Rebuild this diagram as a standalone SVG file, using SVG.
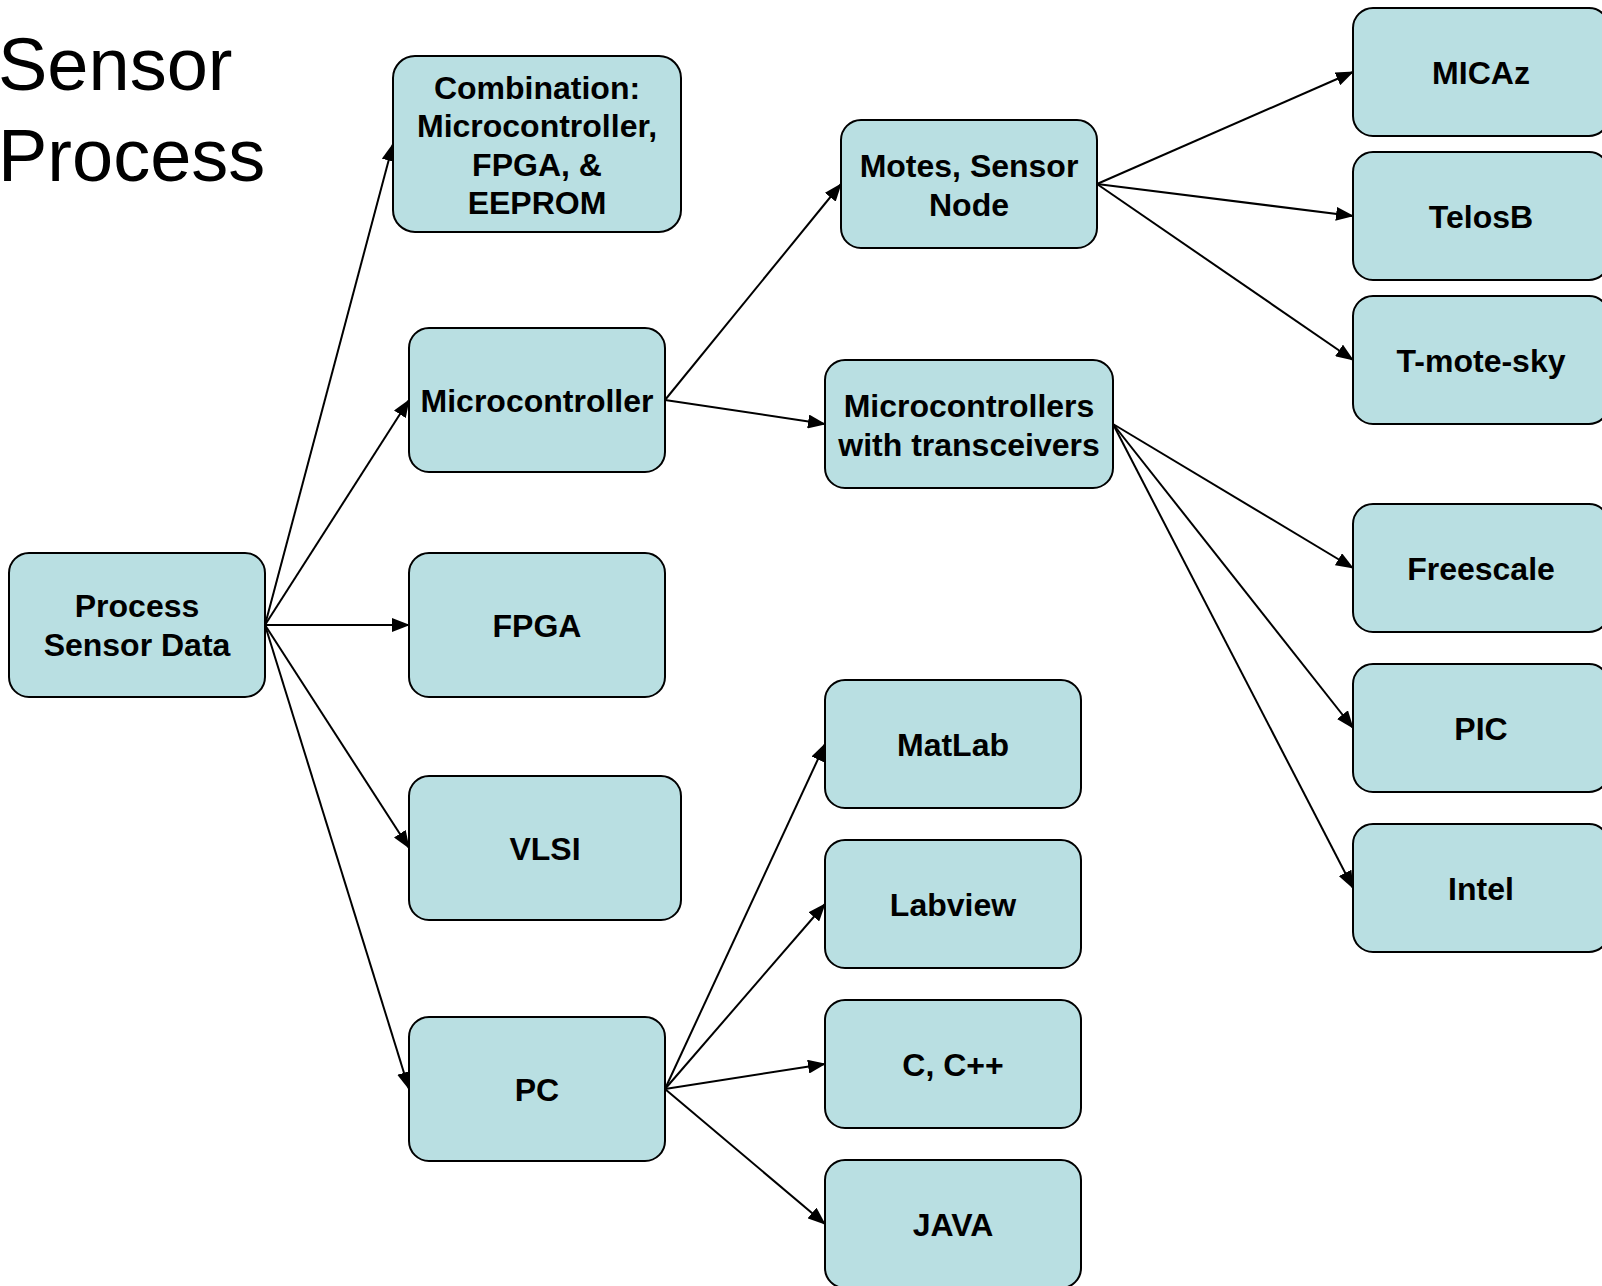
<svg xmlns="http://www.w3.org/2000/svg" width="1602" height="1286" viewBox="0 0 1602 1286">
<style>
.box{fill:#b9dfe2;stroke:#000;stroke-width:2}
.lbl{font-family:"Liberation Sans",Arial,sans-serif;font-weight:bold;font-size:32px;text-anchor:middle;fill:#000}
.title{font-family:"Liberation Sans",Arial,sans-serif;font-size:74px;fill:#000}
.conn line{stroke:#000;stroke-width:2;marker-end:url(#ah)}
</style>
<defs>
<marker id="ah" markerUnits="userSpaceOnUse" markerWidth="18" markerHeight="14" refX="17" refY="7" orient="auto">
<path d="M0,0 L18,7 L0,14 Z" fill="#000"/>
</marker>
</defs>
<rect width="1602" height="1286" fill="#fff"/>
<g id="title">
<text class="title" x="-2" y="90">Sensor</text>
<text class="title" x="-2" y="181">Process</text>
</g>
<g class="conn" id="connectors">
<line x1="265" y1="625" x2="393" y2="144"/>
<line x1="265" y1="625" x2="409" y2="400"/>
<line x1="265" y1="625" x2="409" y2="625"/>
<line x1="265" y1="625" x2="409" y2="848"/>
<line x1="265" y1="625" x2="409" y2="1089"/>
<line x1="665" y1="400" x2="841" y2="184"/>
<line x1="665" y1="400" x2="825" y2="424"/>
<line x1="1097" y1="184" x2="1353" y2="72"/>
<line x1="1097" y1="184" x2="1353" y2="216"/>
<line x1="1097" y1="184" x2="1353" y2="360"/>
<line x1="1113" y1="424" x2="1353" y2="568"/>
<line x1="1113" y1="424" x2="1353" y2="728"/>
<line x1="1113" y1="424" x2="1353" y2="888"/>
<line x1="665" y1="1089" x2="825" y2="744"/>
<line x1="665" y1="1089" x2="825" y2="904"/>
<line x1="665" y1="1089" x2="825" y2="1064"/>
<line x1="665" y1="1089" x2="825" y2="1224"/>
</g>
<g id="n-process"><rect class="box" x="9" y="553" width="256" height="144" rx="20"/><text class="lbl" x="137" y="617">Process</text><text class="lbl" x="137" y="656">Sensor Data</text></g>
<g id="n-combination"><rect class="box" x="393" y="56" width="288" height="176" rx="22"/><text class="lbl" x="537" y="99">Combination:</text><text class="lbl" x="537" y="137">Microcontroller,</text><text class="lbl" x="537" y="176">FPGA, &amp;</text><text class="lbl" x="537" y="214">EEPROM</text></g>
<g id="n-micro"><rect class="box" x="409" y="328" width="256" height="144" rx="20"/><text class="lbl" x="537" y="412">Microcontroller</text></g>
<g id="n-fpga"><rect class="box" x="409" y="553" width="256" height="144" rx="20"/><text class="lbl" x="537" y="637">FPGA</text></g>
<g id="n-vlsi"><rect class="box" x="409" y="776" width="272" height="144" rx="20"/><text class="lbl" x="545" y="860">VLSI</text></g>
<g id="n-pc"><rect class="box" x="409" y="1017" width="256" height="144" rx="20"/><text class="lbl" x="537" y="1101">PC</text></g>
<g id="n-motes"><rect class="box" x="841" y="120" width="256" height="128" rx="20"/><text class="lbl" x="969" y="177">Motes, Sensor</text><text class="lbl" x="969" y="216">Node</text></g>
<g id="n-mwt"><rect class="box" x="825" y="360" width="288" height="128" rx="20"/><text class="lbl" x="969" y="417">Microcontrollers</text><text class="lbl" x="969" y="456">with transceivers</text></g>
<g id="n-matlab"><rect class="box" x="825" y="680" width="256" height="128" rx="20"/><text class="lbl" x="953" y="756">MatLab</text></g>
<g id="n-labview"><rect class="box" x="825" y="840" width="256" height="128" rx="20"/><text class="lbl" x="953" y="916">Labview</text></g>
<g id="n-c"><rect class="box" x="825" y="1000" width="256" height="128" rx="20"/><text class="lbl" x="953" y="1076">C, C++</text></g>
<g id="n-java"><rect class="box" x="825" y="1160" width="256" height="128" rx="20"/><text class="lbl" x="953" y="1236">JAVA</text></g>
<g id="n-micaz"><rect class="box" x="1353" y="8" width="256" height="128" rx="20"/><text class="lbl" x="1481" y="84">MICAz</text></g>
<g id="n-telosb"><rect class="box" x="1353" y="152" width="256" height="128" rx="20"/><text class="lbl" x="1481" y="228">TelosB</text></g>
<g id="n-tmote"><rect class="box" x="1353" y="296" width="256" height="128" rx="20"/><text class="lbl" x="1481" y="372">T-mote-sky</text></g>
<g id="n-freescale"><rect class="box" x="1353" y="504" width="256" height="128" rx="20"/><text class="lbl" x="1481" y="580">Freescale</text></g>
<g id="n-pic"><rect class="box" x="1353" y="664" width="256" height="128" rx="20"/><text class="lbl" x="1481" y="740">PIC</text></g>
<g id="n-intel"><rect class="box" x="1353" y="824" width="256" height="128" rx="20"/><text class="lbl" x="1481" y="900">Intel</text></g>
</svg>
